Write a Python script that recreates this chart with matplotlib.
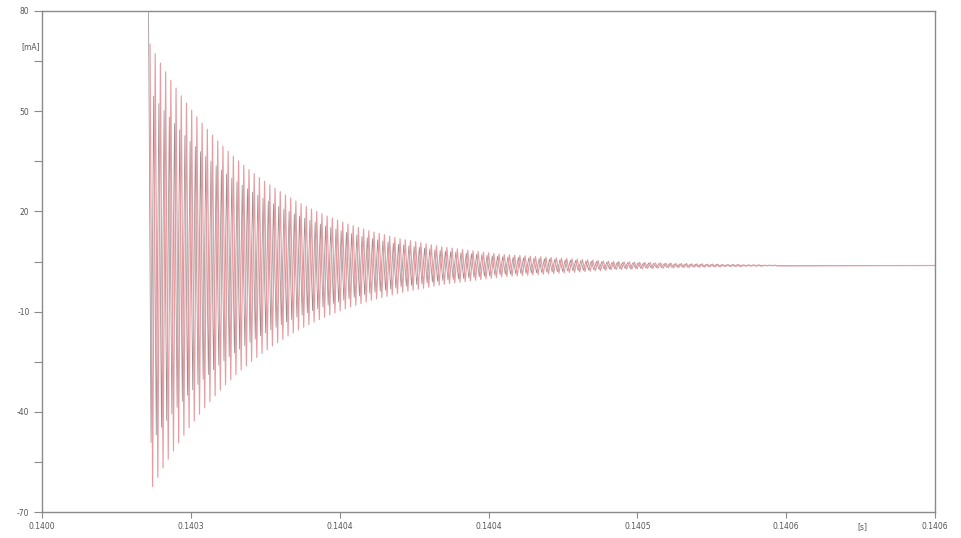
import matplotlib
matplotlib.use("Agg")
import matplotlib.pyplot as plt
import numpy as np

plt.rcParams["axes.unicode_minus"] = False

# peak amplitude of each oscillation cycle around the settling level [mA]
cycle_amp = [
    66.2, 63.4, 60.6, 58.0, 55.5, 53.1, 50.8, 48.6, 46.5, 44.5,
    42.6, 40.8, 39.0, 37.3, 35.7, 34.2, 32.7, 31.3, 30.0, 28.7,
    27.5, 26.3, 25.2, 24.1, 23.1, 22.1, 21.1, 20.2, 19.3, 18.5,
    17.7, 16.9, 16.2, 15.5, 14.8, 14.2, 13.6, 13.0, 12.4, 11.9,
    11.4, 10.9, 10.4, 10.0, 9.6, 9.2, 8.8, 8.4, 8.0, 7.7,
    7.4, 7.1, 6.8, 6.5, 6.2, 5.9, 5.6, 5.4, 5.2, 5.0,
    4.8, 4.6, 4.4, 4.2, 4.0, 3.8, 3.6, 3.4, 3.3, 3.2,
    3.1, 3.0, 2.9, 2.8, 2.7, 2.6, 2.5, 2.4, 2.3, 2.2,
    2.1, 2.0, 1.9, 1.8, 1.7, 1.6, 1.5, 1.4, 1.3, 1.2,
    1.2, 1.1, 1.1, 1.0, 1.0, 0.9, 0.9, 0.8, 0.8, 0.7,
    0.7, 0.6, 0.6, 0.6, 0.5, 0.5, 0.5, 0.4, 0.4, 0.4,
    0.3, 0.3, 0.3, 0.3, 0.2, 0.2, 0.2, 0.2, 0.1, 0.1,
    0.1,
]
settle_level = 3.8      # mA
second_ratio = 0.80     # second trace amplitude relative to the first
second_start = 85.0     # mA, initial overshoot of the second trace

t_start = 0.1402708     # s
period = 2.45e-6        # s
t_end = 0.14064

x_ticks = [0.14022, 0.14029, 0.14036, 0.14043, 0.14050, 0.14057, 0.14064]
x_tick_labels = ["0.1400", "0.1403", "0.1404", "0.1404", "0.1405", "0.1406", "0.1406"]
y_major = [-70, -40, -10, 20, 50, 80]
y_minor = [-55, -25, 5, 35, 65]


def zigzag(amps, t0, level, first=None):
    amps = np.asarray(amps)
    half = period / 2
    vals = np.column_stack([level + amps, level - amps]).ravel()
    t = t0 + half * np.arange(len(vals))
    if first is not None:
        vals = np.concatenate([[first], vals[1:]])
    # flat tail after the ringing has died out
    t = np.append(t, t_end)
    vals = np.append(vals, level)
    return t, vals


t1, i1 = zigzag(cycle_amp, t_start, settle_level)
t2, i2 = zigzag(np.asarray(cycle_amp) * second_ratio, t_start - period * 0.3,
                settle_level, first=second_start)

fig = plt.figure(figsize=(9.61, 5.38), dpi=100)
ax = fig.add_axes([42 / 961, 1 - 512 / 538, (935 - 42) / 961, (512 - 11) / 538])

ax.plot(t2, i2, color="#766769", lw=0.55, alpha=0.75)
ax.plot(t1, i1, color="#e69da2", lw=0.85)

ax.set_xlim(x_ticks[0], x_ticks[-1])
ax.set_ylim(-70, 80)
ax.set_xticks(x_ticks)
ax.set_xticklabels(x_tick_labels)
ax.set_yticks(y_major)
ax.set_yticks(y_minor, minor=True)

for s in ax.spines.values():
    s.set_color("#8a8a8a")
    s.set_linewidth(1.0)

ax.tick_params(axis="y", which="both", length=6, width=0.8, color="#8a8a8a",
               labelsize=5.5, labelcolor="#555555", pad=3)
ax.tick_params(axis="x", length=4, width=0.8, color="#8a8a8a",
               labelsize=5.5, labelcolor="#555555", pad=3)

fig.text(31 / 961, 1 - 47 / 538, "[mA]", fontsize=5.5, color="#555555",
         ha="center", va="center")
fig.text(862 / 961, 1 - 527 / 538, "[s]", fontsize=5.5, color="#555555",
         ha="center", va="center")

fig.savefig("out.png", dpi=100)
